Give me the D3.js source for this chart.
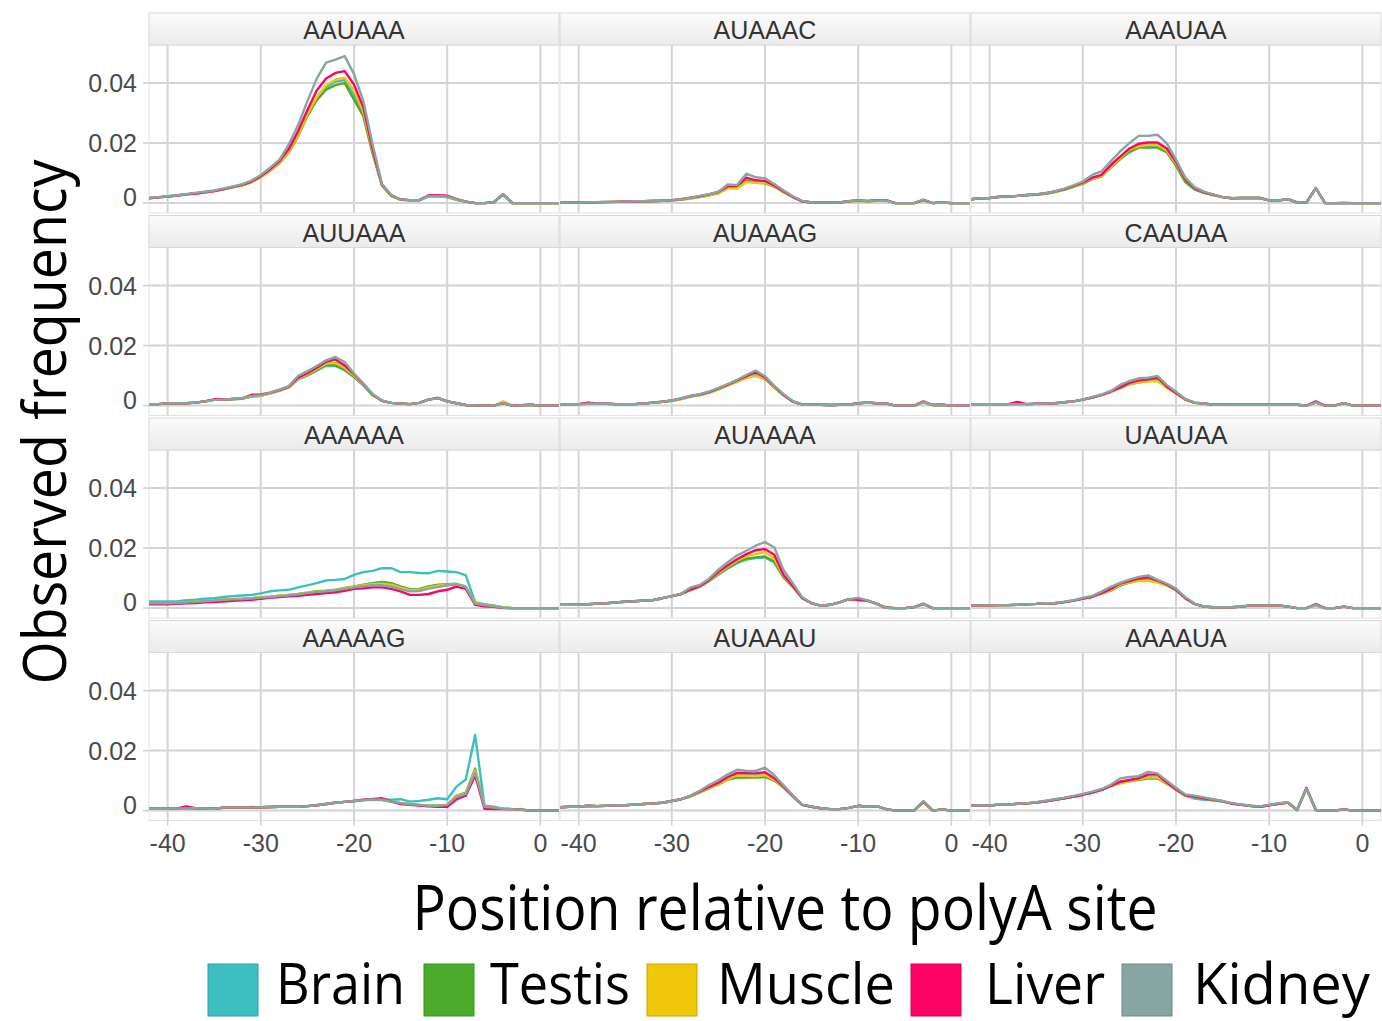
<!DOCTYPE html>
<html><head><meta charset="utf-8">
<script src="https://cdn.jsdelivr.net/npm/d3@7/dist/d3.min.js"></script>
<style>html,body{margin:0;padding:0;background:#fff;}svg{display:block;}</style>
</head><body>
<script>
// ---------- data (frequency values in units of 0.001) ----------
const positions = d3.range(-42, 3);           // -42 .. 2
const tissues = ["Brain","Testis","Muscle","Liver","Kidney"];
const tissueColors = ["#3dbfc1","#4cab2a","#f1c809","#fe0366","#87a5a3"];
const motifs = ["AAUAAA","AUAAAC","AAAUAA","AUUAAA","AUAAAG","CAAUAA","AAAAAA","AUAAAA","UAAUAA","AAAAAG","AUAAAU","AAAAUA"];
const xTicks = [-40,-30,-20,-10,0];
const xTickLabels = ["-40","-30","-20","-10","0"];
const yTicks = [0, 0.02, 0.04];
const yTickLabels = ["0","0.02","0.04"];

// rows: Brain, Testis, Muscle, Liver, Kidney
const AAUAAA = [
[1.7,2.0,2.3,2.6,3.0,3.3,3.7,4.1,4.7,5.4, 6.0,7.1,8.8,11.0,13.6,17.2,22.8,29.5,35.0,38.6, 40.5,41.0,36.0,30.0,17.0,6.0,2.6,1.2,1.0,1.0, 2.3,2.3,2.1,1.2,0.5,0,0,0.3,2.9,0, 0,0,0,0,0],
[1.6,1.9,2.2,2.5,2.9,3.2,3.6,4.0,4.6,5.3, 5.9,7.0,8.6,10.8,13.3,16.8,22.3,29.0,34.3,37.8, 39.3,40.0,34.5,29.0,16.5,5.8,2.4,1.1,0.9,0.9, 2.2,2.2,2.0,1.1,0.5,0,0,0.3,2.8,0, 0,0,0,0,0],
[1.6,1.9,2.2,2.5,2.9,3.2,3.6,4.0,4.6,5.3, 5.9,7.0,8.6,10.8,13.5,17.0,22.6,29.5,35.3,39.3, 41.2,41.8,37.5,30.5,17.5,6.0,2.5,1.1,0.9,0.9, 2.3,2.2,2.2,1.1,0.5,0,0,0.3,2.9,0, 0,0,0,0,0],
[1.6,1.9,2.2,2.5,2.9,3.2,3.6,4.0,4.7,5.4, 6.1,7.2,9.0,11.3,14.0,18.0,24.0,31.0,37.5,41.5, 43.4,44.0,39.5,32.0,18.0,6.2,2.6,1.2,1.0,1.0, 2.6,2.6,2.5,1.3,0.5,0,0,0.3,3.0,0, 0,0,0,0,0],
[1.7,2.0,2.3,2.6,3.0,3.4,3.8,4.2,4.9,5.6, 6.3,7.5,9.4,11.8,14.5,19.5,26.0,34.0,41.5,46.8, 47.8,49.0,43.0,34.0,19.5,6.4,2.7,1.2,1.0,1.0, 2.4,2.4,2.2,1.2,0.5,0,0,0.3,3.0,0, 0,0,0,0,0]];
const AUAAAC = [
[0.2,0.2,0.2,0.2,0.3,0.3,0.4,0.5,0.5,0.6, 0.7,0.8,0.9,1.2,1.6,2.1,2.7,3.4,5.3,5.0, 7.6,7.0,6.8,5.6,3.7,2.0,0.6,0.2,0.2,0.2, 0.2,0.6,0.9,0.6,0.9,0.9,0,0,0,1.1, 0,0.2,0,0,0],
[0.2,0.2,0.2,0.2,0.3,0.3,0.4,0.5,0.5,0.6, 0.7,0.8,0.9,1.2,1.6,2.1,2.6,3.3,5.0,5.0, 7.4,6.8,6.6,5.5,3.6,2.0,0.6,0.2,0.2,0.2, 0.2,0.6,0.8,0.6,0.8,0.8,0,0,0,1.0, 0,0.2,0,0,0],
[0.2,0.2,0.2,0.2,0.3,0.3,0.4,0.5,0.5,0.6, 0.7,0.8,0.9,1.1,1.5,2.0,2.5,3.2,5.2,4.8, 7.0,6.8,6.8,5.6,3.6,2.0,0.6,0.2,0.2,0.2, 0.2,0.5,0.8,0.5,0.8,0.8,0,0,0,1.0, 0,0.2,0,0,0],
[0.2,0.2,0.2,0.2,0.3,0.4,0.4,0.5,0.5,0.6, 0.7,0.8,1.0,1.3,1.8,2.3,2.9,3.7,5.6,5.8, 8.5,7.6,7.4,5.9,3.9,2.1,0.6,0.2,0.2,0.2, 0.2,0.6,0.9,0.7,1.0,1.0,0,0,0,1.1, 0,0.2,0,0,0],
[0.2,0.2,0.2,0.3,0.3,0.4,0.4,0.5,0.6,0.6, 0.7,0.8,1.0,1.3,1.8,2.4,3.0,3.8,6.2,6.0, 9.8,8.6,8.3,6.4,4.2,2.3,0.7,0.2,0.2,0.2, 0.2,0.6,0.9,0.6,0.9,0.9,0,0,0,1.2, 0,0.2,0,0,0]];
const AAAUAA = [
[1.3,1.6,1.7,2.1,2.2,2.4,2.7,2.9,3.2,3.8, 4.6,5.6,6.7,8.3,9.1,12.2,15.0,17.6,19.0,19.2, 19.2,17.4,13.2,7.6,4.8,3.5,2.7,2.0,1.6,1.7, 1.7,1.7,0.9,0.9,1.3,0.2,0.2,5.0,0,0, 0,0,0,0,0],
[1.3,1.6,1.7,2.0,2.2,2.4,2.6,2.8,3.1,3.7, 4.4,5.4,6.4,8.0,8.8,11.8,14.6,17.0,18.5,18.5, 18.5,17.0,12.5,7.0,4.5,3.4,2.7,2.0,1.6,1.7, 1.7,1.7,0.9,0.9,1.3,0.2,0.2,5.0,0,0, 0,0,0,0,0],
[1.3,1.6,1.7,2.1,2.2,2.4,2.7,2.9,3.2,3.8, 4.6,5.6,6.7,8.2,9.0,12.0,15.0,17.8,18.9,19.4, 19.4,17.6,13.3,7.8,5.0,3.6,2.8,2.0,1.6,1.7, 1.7,1.7,0.9,0.9,1.3,0.2,0.2,5.0,0,0, 0.3,0,0,0,0],
[1.3,1.6,1.7,2.1,2.2,2.4,2.7,2.9,3.3,3.9, 4.7,5.7,6.9,8.5,9.4,12.7,15.5,18.2,19.8,20.2, 20.2,18.3,13.8,7.9,5.0,3.6,2.8,2.0,1.6,1.7, 1.7,1.7,0.9,0.9,1.3,0.2,0.2,5.0,0,0, 0,0,0,0,0],
[1.3,1.6,1.7,2.1,2.2,2.4,2.7,2.9,3.3,3.9, 4.8,5.9,7.2,9.4,10.6,13.9,17.2,20.0,22.4,22.4, 22.8,20.0,14.5,8.5,5.3,3.8,2.9,2.0,1.6,1.7, 1.7,1.7,0.9,0.9,1.3,0.2,0.2,5.0,0,0, 0,0,0,0,0]];
const AUUAAA = [
[0.5,0.5,0.8,0.8,0.8,1.0,1.4,1.9,2.0,2.2, 2.3,3.0,3.3,4.1,5.0,6.1,8.7,10.0,11.6,13.3, 13.2,11.8,9.5,6.8,3.5,1.6,0.9,0.7,0.5,0.9, 2.0,2.5,1.4,0.8,0.2,0,0,0,0.8,0, 0.1,0.3,0,0,0],
[0.5,0.5,0.8,0.8,0.8,1.0,1.4,1.9,2.0,2.2, 2.3,3.0,3.3,4.1,5.0,6.1,8.9,10.2,11.9,13.6, 13.4,12.0,9.6,6.8,3.5,1.6,0.9,0.7,0.5,0.9, 2.0,2.5,1.4,0.8,0.2,0,0,0,0.8,0, 0.1,0.3,0,0,0],
[0.5,0.5,0.8,0.8,0.8,1.0,1.4,1.9,2.0,2.2, 2.3,3.0,3.3,4.1,5.0,6.1,9.0,10.4,12.2,14.0, 14.3,12.6,10.0,7.0,3.6,1.6,0.9,0.7,0.5,0.9, 2.0,2.5,1.4,0.8,0.2,0,0,0,1.4,0, 0.1,0.3,0,0,0],
[0.5,0.5,0.8,0.8,0.8,1.0,1.4,2.1,2.0,2.2, 2.4,3.6,3.7,4.3,5.2,6.3,9.3,10.8,12.6,14.6, 15.4,13.4,10.5,7.2,3.7,1.6,0.9,0.7,0.5,0.9, 2.0,2.6,1.4,0.8,0.2,0,0,0,0.8,0, 0.1,0.3,0,0,0],
[0.5,0.5,0.8,0.8,0.8,1.0,1.4,1.9,2.0,2.2, 2.4,3.2,3.5,4.3,5.3,6.5,9.9,11.5,13.2,15.1, 16.2,14.5,10.7,7.4,3.9,1.7,0.9,0.7,0.5,0.9, 2.0,2.5,1.4,0.8,0.2,0,0,0,0.8,0, 0.1,0.3,0,0,0]];
const AUAAAG = [
[0.5,0.5,0.5,0.6,0.7,0.6,0.5,0.5,0.5,0.7, 1.0,1.3,1.6,2.3,3.1,3.6,4.4,5.6,6.9,8.2, 9.4,10.4,9.0,6.1,3.5,1.3,0.3,0.3,0.3,0, 0.3,0.3,0.8,1.0,0.8,0.7,0,0,0,1.1, 0.2,0.3,0,0,0],
[0.5,0.5,0.5,0.6,0.7,0.6,0.5,0.5,0.5,0.7, 1.0,1.3,1.6,2.2,3.0,3.5,4.3,5.4,6.7,8.0, 9.3,10.0,8.8,6.0,3.4,1.3,0.3,0.3,0.3,0.2, 0.3,0.3,0.8,1.0,0.8,0.7,0,0,0,1.1, 0.2,0.3,0,0,0],
[0.5,0.5,0.5,0.6,0.7,0.6,0.5,0.5,0.5,0.7, 1.0,1.3,1.6,2.2,3.0,3.5,4.3,5.4,6.7,8.0, 9.2,9.9,9.0,6.1,3.5,1.4,0.3,0.3,0.3,0.2, 0.3,0.3,0.8,1.0,0.8,0.7,0,0,0,1.1, 0.2,0.3,0,0,0],
[0.5,0.5,0.5,1.0,0.7,0.6,0.5,0.5,0.5,0.7, 1.0,1.3,1.7,2.4,3.2,3.7,4.5,5.7,7.0,8.4, 9.8,11.3,9.4,6.4,3.6,1.4,0.3,0.3,0.3,0.2, 0.3,0.3,0.8,1.0,0.8,0.7,0,0,0,1.4, 0.2,0.3,0,0,0],
[0.5,0.5,0.5,0.6,0.7,0.6,0.5,0.5,0.5,0.7, 1.0,1.3,1.7,2.4,3.2,3.8,4.7,5.9,7.2,8.6, 10.2,11.7,9.8,6.6,3.8,1.5,0.3,0.3,0.3,0.2, 0.3,0.3,0.8,1.0,0.8,0.7,0,0,0,1.2, 0.2,0.3,0,0,0]];
const CAAUAA = [
[0.5,0.5,0.5,0.5,0.5,0.5,0.5,0.6,0.7,0.8, 1.1,1.4,2.0,2.7,3.5,4.6,5.8,7.2,7.8,8.3, 8.8,6.1,4.1,2.0,0.9,0.7,0.3,0.3,0.3,0.3, 0.3,0.3,0.3,0.3,0.3,0.3,0,1.0,0,0, 0.8,0,0,0,0],
[0.5,0.5,0.5,0.5,0.5,0.5,0.5,0.6,0.7,0.8, 1.1,1.4,2.0,2.7,3.5,4.6,5.8,7.2,7.8,8.3, 8.7,6.1,4.1,2.0,0.9,0.7,0.3,0.3,0.3,0.3, 0.3,0.3,0.3,0.3,0.3,0.3,0,1.0,0,0, 0.8,0,0,0,0],
[0.5,0.5,0.5,0.5,0.5,0.5,0.5,0.6,0.7,0.8, 1.1,1.4,2.0,2.7,3.5,4.6,5.8,7.2,7.8,8.0, 8.2,6.0,4.0,2.0,0.9,0.7,0.3,0.3,0.3,0.3, 0.3,0.3,0.3,0.3,0.3,0.3,0,1.0,0,0, 0.8,0,0,0,0],
[0.5,0.5,0.5,0.5,0.5,1.2,0.5,0.6,0.7,0.8, 1.1,1.4,2.0,2.7,3.6,4.7,6.1,7.6,8.4,8.8, 9.4,6.4,4.2,2.1,1.0,0.7,0.3,0.3,0.3,0.3, 0.3,0.3,0.3,0.3,0.3,0.3,0,1.4,0,0, 0.8,0,0,0,0],
[0.5,0.5,0.5,0.5,0.5,0.5,0.5,0.6,0.7,0.8, 1.1,1.4,2.0,2.8,3.7,4.9,6.9,8.2,9.1,9.3, 9.9,6.9,4.6,2.2,1.0,0.7,0.3,0.3,0.3,0.3, 0.3,0.3,0.3,0.3,0.3,0.3,0,1.1,0,0, 0.8,0,0,0,0]];
const AAAAAA = [
[2.2,2.2,2.2,2.2,2.6,2.8,3.1,3.3,3.7,4.0, 4.2,4.4,4.9,5.6,5.9,6.1,6.9,7.6,8.3,9.2, 9.4,9.7,11.1,12.0,12.4,13.3,13.3,12.0,12.0,11.7, 11.6,12.4,12.2,12.0,10.9,2.0,1.3,0.9,0.2,0, 0,0,0,0,0],
[1.7,1.7,1.7,1.8,2.0,2.2,2.4,2.6,2.8,3.0, 3.1,3.3,3.6,3.8,4.1,4.4,4.7,5.1,5.6,5.8, 6.1,6.7,7.2,7.8,8.3,8.7,8.3,7.2,6.3,6.4, 7.2,7.8,8.0,8.1,7.2,1.7,1.1,0.7,0.2,0, 0,0,0,0,0],
[1.7,1.7,1.7,1.8,2.0,2.2,2.4,2.6,2.8,3.0, 3.1,3.3,3.6,3.8,4.1,4.4,4.7,5.1,5.5,5.7, 6.0,6.6,7.1,7.6,8.0,8.1,7.8,6.8,6.0,6.1, 6.9,7.5,7.8,8.0,7.2,1.7,1.1,0.7,0.2,0, 0,0,0,0,0],
[1.3,1.3,1.3,1.4,1.6,1.7,1.9,2.0,2.2,2.4, 2.6,2.8,3.1,3.4,3.7,3.9,4.1,4.4,4.7,5.0, 5.3,5.8,6.4,6.6,6.9,6.9,6.4,5.6,4.4,4.4, 4.7,5.6,6.1,7.2,6.4,1.1,0.6,0.4,0,0, 0,0,0,0,0],
[1.6,1.6,1.6,1.7,1.9,2.1,2.3,2.5,2.7,2.9, 3.0,3.2,3.5,3.7,4.0,4.3,4.6,5.0,5.4,5.6, 5.9,6.4,6.9,7.3,7.6,7.6,7.2,6.3,5.6,5.7, 6.5,7.0,7.6,7.9,7.0,1.5,1.0,0.6,0.1,0, 0,0,0,0,0]];
const AUAAAA = [
[1.1,1.1,1.1,1.3,1.5,1.6,1.9,2.1,2.3,2.5, 2.7,3.3,4.0,4.7,6.0,7.1,9.0,11.2,13.2,15.0, 16.2,16.7,16.9,15.2,10.2,7.0,3.3,1.6,0.8,1.1, 1.9,3.0,2.7,2.5,1.4,0.1,0,0,0.3,1.4, 0,0,0,0,0],
[1.1,1.1,1.1,1.3,1.5,1.6,1.9,2.1,2.3,2.5, 2.7,3.3,4.0,4.7,6.0,7.1,9.0,11.3,13.4,15.2, 16.5,16.9,17.2,15.5,10.2,7.0,3.3,1.6,0.8,1.1, 1.9,3.0,2.7,2.5,1.4,0.1,0,0,0.3,1.4, 0,0,0,0,0],
[1.1,1.1,1.1,1.3,1.5,1.6,1.9,2.1,2.3,2.5, 2.7,3.3,4.0,4.7,6.1,7.2,9.2,11.6,13.8,15.8, 17.3,18.0,18.6,16.5,10.6,7.1,3.3,1.6,0.8,1.1, 1.9,3.0,2.7,2.5,1.4,0.1,0,0,0.3,1.4, 0,0,0,0,0],
[1.1,1.1,1.1,1.3,1.5,1.6,1.9,2.1,2.3,2.5, 2.7,3.3,4.0,4.7,6.2,7.3,9.4,12.0,14.3,16.3, 18.0,19.3,19.7,17.8,11.0,7.3,3.4,1.6,0.8,1.1, 1.9,3.0,2.8,2.5,1.4,0.1,0,0,0.3,1.4, 0,0,0,0,0],
[1.1,1.1,1.1,1.3,1.5,1.6,1.9,2.1,2.3,2.5, 2.7,3.3,4.0,4.8,6.9,7.7,9.8,12.8,15.3,17.5, 19.1,20.8,22.0,20.2,12.6,8.2,3.6,1.7,0.8,1.1, 1.9,3.0,3.4,2.6,1.4,0.1,0,0,0.3,1.4, 0,0,0,0,0]];
const UAAUAA = [
[0.9,0.9,0.9,1.0,1.0,1.1,1.3,1.4,1.6,1.6, 2.0,2.5,3.2,3.8,4.9,6.2,8.0,8.7,9.5,9.8, 8.7,7.7,6.0,3.3,1.4,0.5,0.3,0.3,0.3,0.5, 0.9,0.9,0.9,0.9,0.5,0,0,1.1,0,0, 0.5,0,0,0,0],
[0.9,0.9,0.9,1.0,1.0,1.1,1.3,1.4,1.6,1.6, 2.0,2.5,3.2,3.8,4.8,5.8,7.5,8.5,9.3,9.4, 8.6,7.6,6.0,3.3,1.4,0.5,0.3,0.3,0.3,0.5, 0.9,0.9,0.9,0.9,0.5,0,0,1.1,0,0, 0.5,0,0,0,0],
[0.9,0.9,0.9,1.0,1.0,1.1,1.3,1.4,1.6,1.6, 2.0,2.5,3.2,3.8,4.8,6.0,7.8,8.5,9.0,9.1, 8.5,7.6,6.0,3.3,1.4,0.5,0.3,0.3,0.3,0.5, 0.9,0.9,0.9,0.9,0.5,0,0,1.1,0,0, 0.5,0,0,0,0],
[0.9,0.9,0.9,1.0,1.0,1.1,1.3,1.4,1.6,1.6, 2.0,2.5,3.2,3.8,5.0,6.4,8.2,9.0,9.9,10.3, 9.2,7.9,6.1,3.3,1.4,0.5,0.3,0.3,0.3,0.5, 0.9,0.9,0.9,0.9,0.5,0,0,1.3,0,0, 0.5,0,0,0,0],
[0.9,0.9,0.9,1.0,1.0,1.1,1.3,1.4,1.6,1.7, 2.1,2.6,3.4,4.1,5.5,7.1,8.4,9.5,10.4,10.9, 9.5,8.2,6.5,3.6,1.5,0.5,0.3,0.3,0.3,0.5, 0.9,0.9,0.9,0.9,0.5,0,0,1.1,0,0, 0.5,0,0,0,0]];
const AAAAAG = [
[0.6,0.6,0.6,0.6,0.7,0.8,0.7,0.6,0.9,1.0, 1.0,1.2,1.1,1.2,1.3,1.3,1.3,1.5,1.8,2.2, 2.6,2.9,3.1,3.5,3.9,3.8,3.6,3.8,3.0,3.2, 3.6,4.1,3.8,8.0,10.4,25.2,1.6,1.3,0.6,0.5, 0.3,0,0,0,0],
[0.6,0.6,0.6,0.7,0.8,0.8,0.7,0.6,1.0,1.0, 1.0,1.0,1.1,1.2,1.3,1.3,1.3,1.5,1.8,2.2, 2.6,2.9,3.2,3.5,3.7,3.6,3.0,2.5,2.1,1.9, 1.6,1.6,1.9,5.0,6.0,14.0,1.3,1.0,0.6,0.5, 0.3,0,0,0,0],
[0.6,0.6,0.6,0.7,0.8,0.8,0.7,0.6,1.0,1.0, 1.0,1.0,1.1,1.2,1.3,1.3,1.3,1.5,1.8,2.2, 2.6,2.9,3.2,3.5,3.6,3.5,3.0,2.5,2.1,1.9, 1.6,1.6,2.0,4.8,5.8,13.5,1.3,1.0,0.6,0.5, 0.3,0,0,0,0],
[0.6,0.6,0.6,0.7,1.4,0.8,0.7,0.6,1.0,1.0, 1.0,1.0,1.1,1.2,1.3,1.3,1.3,1.5,1.8,2.2, 2.6,2.9,3.2,3.6,3.8,4.1,3.0,2.2,1.9,1.7, 1.4,1.3,1.3,3.8,5.0,11.7,0.6,0.5,0.5,0.5, 0.3,0,0,0,0],
[0.6,0.6,0.6,0.7,0.8,0.8,0.7,0.6,1.0,1.0, 1.0,1.0,1.1,1.2,1.3,1.3,1.3,1.5,1.8,2.2, 2.6,2.9,3.2,3.5,3.7,3.6,3.0,2.5,2.1,1.9, 1.6,1.6,1.9,4.6,5.6,12.8,1.3,1.0,0.6,0.5, 0.3,0,0,0,0]];
const AUAAAU = [
[1.1,1.3,1.3,1.6,1.5,1.6,1.8,1.8,2.0,2.2, 2.4,2.6,3.2,3.8,4.8,6.3,7.7,9.0,10.7,12.0, 11.8,11.6,12.0,10.5,7.8,4.8,1.9,1.3,0.8,0.5, 0.5,0.9,1.6,1.3,1.5,0.5,0,0,0,3.0, 0,0.4,0,0,0],
[1.1,1.3,1.3,1.6,1.5,1.6,1.8,1.8,2.0,2.2, 2.4,2.6,3.2,3.8,4.7,6.1,7.4,8.7,10.3,11.0, 11.0,11.0,11.2,10.0,7.6,4.7,1.9,1.3,0.8,0.5, 0.5,0.9,1.6,1.3,1.5,0.5,0,0,0,3.0, 0,0.4,0,0,0],
[1.1,1.3,1.3,1.6,1.5,1.6,1.8,1.8,2.0,2.2, 2.4,2.6,3.2,3.8,4.7,6.2,7.5,8.8,10.5,11.8, 11.6,11.4,11.8,10.3,7.7,4.7,1.9,1.3,0.8,0.5, 0.5,0.9,1.6,1.3,1.5,0.5,0,0,0,3.0, 0,0.4,0,0,0],
[1.1,1.3,1.3,1.6,1.5,1.6,1.8,1.8,2.0,2.2, 2.4,2.6,3.2,3.8,4.9,6.4,7.9,9.3,11.2,12.6, 12.5,12.4,12.8,10.8,8.0,4.8,1.9,1.3,0.8,0.5, 0.5,0.9,1.6,1.3,1.5,0.5,0,0,0,3.0, 0,0.4,0,0,0],
[1.1,1.3,1.3,1.6,1.5,1.6,1.8,1.8,2.0,2.2, 2.4,2.6,3.2,3.8,5.0,6.6,8.5,10.1,12.1,13.6, 13.2,13.2,14.3,11.8,8.4,5.0,2.0,1.3,0.8,0.5, 0.5,0.9,1.6,1.3,1.5,0.5,0,0,0,3.2, 0,0.4,0,0,0]];
const AAAAUA = [
[1.6,1.8,1.7,2.0,2.0,2.3,2.4,2.7,3.1,3.6, 4.1,4.7,5.3,6.0,6.9,8.2,9.6,10.0,10.5,11.2, 11.0,9.0,6.9,5.0,4.0,3.6,3.4,3.0,2.4,2.0, 1.6,1.4,1.8,2.3,2.7,0.2,7.4,0.2,0,0, 0.4,0,0,0,0],
[1.6,1.8,1.7,2.0,2.0,2.3,2.4,2.7,3.1,3.6, 4.1,4.7,5.3,6.0,6.9,8.2,9.3,9.8,10.3,10.7, 10.8,9.0,7.0,5.0,4.5,4.0,3.5,3.1,2.4,2.0, 1.6,1.3,1.8,2.3,2.7,0.2,7.4,0.2,0,0, 0.4,0,0,0,0],
[1.6,1.8,1.7,2.0,2.0,2.3,2.4,2.7,3.1,3.6, 4.1,4.7,5.3,6.0,6.9,8.2,9.0,9.8,10.5,11.0, 11.0,9.1,7.0,5.0,4.6,4.1,3.6,3.1,2.4,2.0, 1.6,1.3,1.8,2.3,2.7,0.2,7.4,0.2,0,0, 0.4,0,0,0,0],
[1.6,1.8,1.7,2.0,2.0,2.3,2.4,2.7,3.1,3.6, 4.1,4.7,5.3,6.0,6.9,8.2,9.6,10.2,10.8,12.0, 12.0,9.4,7.1,5.1,4.7,4.1,3.6,3.1,2.3,1.9, 1.5,1.3,1.8,2.3,2.7,0.2,7.6,0.2,0,0, 0.4,0,0,0,0],
[1.6,1.8,1.7,2.0,2.0,2.3,2.5,2.8,3.3,3.8, 4.3,4.9,5.6,6.3,7.2,8.6,10.7,11.2,11.5,12.9, 12.4,10.0,7.6,5.4,5.0,4.4,3.8,3.2,2.5,2.0, 1.6,1.4,1.9,2.4,2.8,0.2,7.4,0.2,0,0, 0.4,0,0,0,0]];

const motifData = {AAUAAA,AUAAAC,AAAUAA,AUUAAA,AUAAAG,CAAUAA,AAAAAA,AUAAAA,UAAUAA,AAAAAG,AUAAAU,AAAAUA};
const UNIT = 0.001;

// ---------- layout ----------
const W = 1382, H = 1021;
const colLeft = [149, 560, 971];
const panelW = 410, panelH = 168, stripH = 32, rowPitch = 202.5, firstTop = 45;
const tickFont = "'Liberation Sans', Arial, sans-serif";
const titleFont = "'Open Sans', 'Noto Sans', sans-serif";

const svg = d3.select("body").append("svg").attr("width", W).attr("height", H);
const defs = svg.append("defs");
const grad = defs.append("linearGradient").attr("id","stripGrad").attr("x1",0).attr("x2",0).attr("y1",0).attr("y2",1);
grad.append("stop").attr("offset","0%").attr("stop-color","#fbfbfb");
grad.append("stop").attr("offset","100%").attr("stop-color","#ebebeb");

const x = d3.scaleLinear().domain([-42, 2]).range([0, panelW]);
const y = d3.scaleLinear().domain([-0.0033, 0.0527]).range([panelH, 0]);
const line = d3.line().x(d => x(d[0])).y(d => y(d[1] * UNIT));

motifs.forEach((m, i) => {
  const r = Math.floor(i / 3), c = i % 3;
  const left = colLeft[c], top = firstTop + r * rowPitch;
  const g = svg.append("g").attr("transform", `translate(${left},${top})`);
  defs.append("clipPath").attr("id", "clip" + i).append("rect").attr("width", panelW).attr("height", panelH);

  g.append("rect").attr("width", panelW).attr("height", panelH).attr("fill", "#fff");
  g.selectAll("line.gx").data(xTicks).join("line")
    .attr("x1", d => x(d)).attr("x2", d => x(d)).attr("y1", 0).attr("y2", panelH)
    .attr("stroke", "#d4d4d4").attr("stroke-width", 2);
  g.selectAll("line.gy").data(yTicks).join("line")
    .attr("y1", d => y(d)).attr("y2", d => y(d)).attr("x1", 0).attr("x2", panelW)
    .attr("stroke", "#d4d4d4").attr("stroke-width", 2);
  g.append("rect").attr("width", panelW).attr("height", panelH).attr("fill", "none")
    .attr("stroke", "#e2e2e2").attr("stroke-width", 1);

  const lg = g.append("g").attr("clip-path", `url(#clip${i})`);
  motifData[m].forEach((vals, k) => {
    lg.append("path").datum(positions.map((p, j) => [p, vals[j]]))
      .attr("d", line).attr("fill", "none").attr("stroke", tissueColors[k])
      .attr("stroke-width", 2.4).attr("stroke-linejoin", "round");
  });

  g.append("rect").attr("y", -stripH).attr("width", panelW).attr("height", stripH)
    .attr("fill", "url(#stripGrad)").attr("stroke", "#d8d8d8").attr("stroke-width", 1);
  g.append("text").attr("x", panelW / 2).attr("y", -stripH / 2 + 1)
    .attr("text-anchor", "middle").attr("dominant-baseline", "central")
    .attr("font-family", tickFont).attr("font-size", 25).attr("fill", "#333").text(m);

  if (c === 0) {
    g.selectAll("line.ty").data(yTicks).join("line")
      .attr("x1", -6).attr("x2", 0).attr("y1", d => y(d)).attr("y2", d => y(d))
      .attr("stroke", "#cfcfcf").attr("stroke-width", 1.5);
    g.selectAll("text.ty").data(yTicks).join("text")
      .attr("x", -12).attr("y", d => y(d) + (d === 0 ? -6 : 0))
      .attr("text-anchor", "end").attr("dominant-baseline", "central")
      .attr("font-family", tickFont).attr("font-size", 25).attr("fill", "#4a4a4a")
      .text((d, j) => yTickLabels[j]);
  }
  if (r === 3) {
    g.selectAll("line.tx").data(xTicks).join("line")
      .attr("x1", d => x(d)).attr("x2", d => x(d)).attr("y1", panelH).attr("y2", panelH + 5)
      .attr("stroke", "#cfcfcf").attr("stroke-width", 1.5);
    g.selectAll("text.tx").data(xTicks).join("text")
      .attr("x", d => x(d)).attr("y", panelH + 22)
      .attr("text-anchor", "middle").attr("dominant-baseline", "central")
      .attr("font-family", tickFont).attr("font-size", 25).attr("fill", "#4a4a4a")
      .text((d, j) => xTickLabels[j]);
  }
});

// axis titles
svg.append("text").attr("transform", "translate(66,422) rotate(-90)")
  .attr("text-anchor", "middle").attr("font-family", titleFont).attr("font-size", 61)
  .attr("textLength", 525).attr("lengthAdjust", "spacingAndGlyphs")
  .attr("fill", "#000").text("Observed frequency");
svg.append("text").attr("x", 785).attr("y", 930)
  .attr("text-anchor", "middle").attr("font-family", titleFont).attr("font-size", 62)
  .attr("textLength", 745).attr("lengthAdjust", "spacingAndGlyphs")
  .attr("fill", "#000").text("Position relative to polyA site");

// legend
const legSwatchX = [208, 424, 647, 911, 1122];
const legTextX = [276, 490, 717, 985, 1193];
const legTextW = [129, 140, 178, 120, 177];
const leg = svg.append("g");
tissues.forEach((t, k) => {
  leg.append("rect").attr("x", legSwatchX[k]).attr("y", 964).attr("width", 50).attr("height", 52)
    .attr("fill", tissueColors[k]).attr("stroke", d3.color(tissueColors[k]).darker(0.5)).attr("stroke-width", 1);
  leg.append("text").attr("x", legTextX[k]).attr("y", 1004)
    .attr("font-family", titleFont).attr("font-size", 57)
    .attr("textLength", legTextW[k]).attr("lengthAdjust", "spacingAndGlyphs")
    .attr("fill", "#000").text(t);
});
</script>
</body></html>
